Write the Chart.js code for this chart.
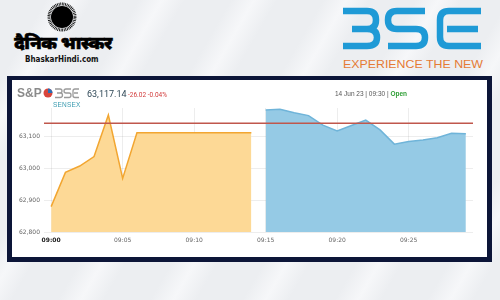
<!DOCTYPE html>
<html>
<head>
<meta charset="utf-8">
<script src="https://cdn.jsdelivr.net/npm/chart.js@4"></script>
<style>
  html, body { margin: 0; padding: 0; }
  body {
    width: 500px; height: 300px; position: relative; overflow: hidden;
    background: repeating-linear-gradient(120deg, #eceef1 0px, #eceef1 40px, #f6f7f9 60px, #eceef1 80px);
    font-family: "DejaVu Sans", sans-serif;
  }
  .abs { position: absolute; white-space: nowrap; }
  #frame { left: 7px; top: 76px; width: 475px; height: 177px; border: 5px solid #0c1538; border-top-width: 4px; background: #fff; }
  #wrap { left: 12px; top: 80px; width: 474px; height: 177px; }
</style>
</head>
<body>
<svg class="abs" style="left:0;top:0" width="500" height="76">
  <circle cx="62" cy="17" r="11" fill="#000"/>
  <circle cx="62" cy="17" r="13" fill="none" stroke="#000" stroke-width="3" stroke-dasharray="0.8 0.8"/>
  <g fill="none" stroke="#1f9ad6" stroke-width="6.5">
    <path d="M343 11 H367 Q376 11 376 20 Q376 29 367 29 H352 M367 29 Q377 29 377 37.5 Q377 46 367 46 H343"/>
    <path d="M425 11 H397 Q388 11 388 20 Q388 29 397 29 H416 Q425 29 425 37.5 Q425 46 416 46 H388"/>
    <path d="M481 11 H449 Q440 11 440 20 V37 Q440 46 449 46 H481 M447 29 H478"/>
  </g>
  <text x="343" y="68" textLength="140" lengthAdjust="spacingAndGlyphs" font-family="Liberation Sans" font-size="11" fill="#e57a35">EXPERIENCE THE NEW</text>
</svg>
<div class="abs" style="left:9px;top:32px;width:108px;font:900 18px 'Noto Sans', sans-serif;line-height:21px;color:#000;text-align:center;-webkit-text-stroke:0.6px #000;letter-spacing:-0.4px">दैनिक भास्कर</div>
<div class="abs" style="left:25px;top:55px;font:bold 8px 'DejaVu Sans Condensed', sans-serif;color:#111">BhaskarHindi.com</div>

<div id="frame" class="abs"></div>
<div id="wrap" class="abs"><canvas id="myChart"></canvas></div>

<div class="abs" style="left:17px;top:86px;font:bold 12px 'Liberation Sans', sans-serif;color:#8a8a8a">S&amp;P</div>
<svg class="abs" style="left:43px;top:87px" width="36" height="14">
  <circle cx="5" cy="6" r="4.5" fill="#d8453b"/>
  <path d="M5 1.5 A4.5 4.5 0 0 1 9.5 6 L5 6 Z" fill="#2a6fb5"/>
  <g fill="none" stroke="#9a9a9a" stroke-width="1.3">
    <path d="M12 2 H17 Q19 2 19 4 Q19 6 17 6 H14 M17 6 Q19.5 6 19.5 8 Q19.5 10.5 17 10.5 H12"/>
    <path d="M28 2 H23 Q21 2 21 4 Q21 6 23 6 H26 Q28 6 28 8 Q28 10.5 26 10.5 H21"/>
    <path d="M36 2 H32 Q30 2 30 4 V8.5 Q30 10.5 32 10.5 H36 M31 6 H35"/>
  </g>
</svg>
<div class="abs" style="left:53px;top:101px;font:6.5px 'Liberation Sans', sans-serif;color:#3a9bb0;letter-spacing:0.2px">SENSEX</div>
<div class="abs" style="left:87px;top:89px;font:9px Roboto, sans-serif;color:#2e4756">63,117.14</div>
<div class="abs" style="left:128px;top:91px;font:6.5px Roboto, sans-serif;color:#d23b3b">-26.02 -0.04%</div>
<div class="abs" style="left:335px;top:90px;font:6.5px 'Liberation Sans Narrow', 'Liberation Sans', sans-serif;color:#555">14 Jun 23 | 09:30 | <b style="color:#2e9e35">Open</b></div>

<script>
const times = ["09:00","09:01","09:02","09:03","09:04","09:05","09:06","09:07","09:08","09:09",
  "09:10","09:11","09:12","09:13","09:14","09:15","09:16","09:17","09:18","09:19",
  "09:20","09:21","09:22","09:23","09:24","09:25","09:26","09:27","09:28","09:29"];
// pre-open session, 09:00 - 09:14
const preOpen = [62880, 62988, 63008, 63038, 63169, 62969, 63113, 63113, 63113, 63113,
  63113, 63113, 63113, 63113, 63113];
// normal session, 09:15 - 09:29
const session = [63185, 63187, 63176, 63167, 63137, 63119, 63136, 63153, 63122, 63077,
  63085, 63090, 63097, 63111, 63110];
const prevClose = 63143.16;
const yTicks = [62800, 62900, 63000, 63100];

const yellowData = times.map((t, i) => i < preOpen.length ? preOpen[i] : null);
const blueData = times.map((t, i) => i >= preOpen.length ? session[i - preOpen.length] : null);

const prevCloseLine = {
  id: "prevCloseLine",
  afterDatasetsDraw(chart) {
    const { ctx, chartArea, scales } = chart;
    const y = scales.y.getPixelForValue(prevClose);
    ctx.save();
    ctx.strokeStyle = "#c0574c";
    ctx.lineWidth = 1.5;
    ctx.beginPath();
    ctx.moveTo(chartArea.left, y);
    ctx.lineTo(chartArea.right, y);
    ctx.stroke();
    ctx.restore();
  }
};

new Chart("myChart", {
  type: "line",
  data: {
    labels: times,
    datasets: [
      {
        data: yellowData,
        borderColor: "#f2a631",
        backgroundColor: "#fdd996",
        borderWidth: 1.5,
        fill: "start",
        pointRadius: 0,
        tension: 0
      },
      {
        data: blueData,
        borderColor: "#6fb4d9",
        backgroundColor: "#95cae5",
        borderWidth: 1.5,
        fill: "start",
        pointRadius: 0,
        tension: 0
      }
    ]
  },
  options: {
    responsive: true,
    maintainAspectRatio: false,
    animation: false,
    layout: { padding: { top: 28, right: 13, left: 0, bottom: 0 } },
    plugins: { legend: { display: false }, tooltip: { enabled: false } },
    scales: {
      x: {
        offset: true,
        z: 1,
        grid: {
          offset: false,
          drawTicks: false,
          color: (c) => c.index % 5 === 0 ? "rgba(0,0,0,0.07)" : "transparent"
        },
        border: { display: false },
        ticks: {
          autoSkip: false,
          maxRotation: 0,
          padding: 5,
          color: (c) => c.index === 0 ? "#222" : "#666",
          font: (c) => ({ family: "DejaVu Sans", size: 6, weight: c.index === 0 ? "bold" : "normal" }),
          callback: (v, i) => i % 5 === 0 ? times[i] : ""
        },
        afterFit: (a) => { a.height = 25; }
      },
      y: {
        min: 62800,
        max: 63191,
        z: 1,
        afterBuildTicks: (a) => { a.ticks = yTicks.map((v) => ({ value: v })); },
        grid: { drawTicks: false, color: "rgba(0,0,0,0.07)" },
        border: { display: false },
        ticks: {
          padding: 4,
          color: "#666",
          font: { family: "DejaVu Sans", size: 6 },
          callback: (v) => v.toLocaleString("en-US")
        },
        afterFit: (a) => { a.width = 32; }
      }
    }
  },
  plugins: [prevCloseLine]
});
</script>
</body>
</html>
